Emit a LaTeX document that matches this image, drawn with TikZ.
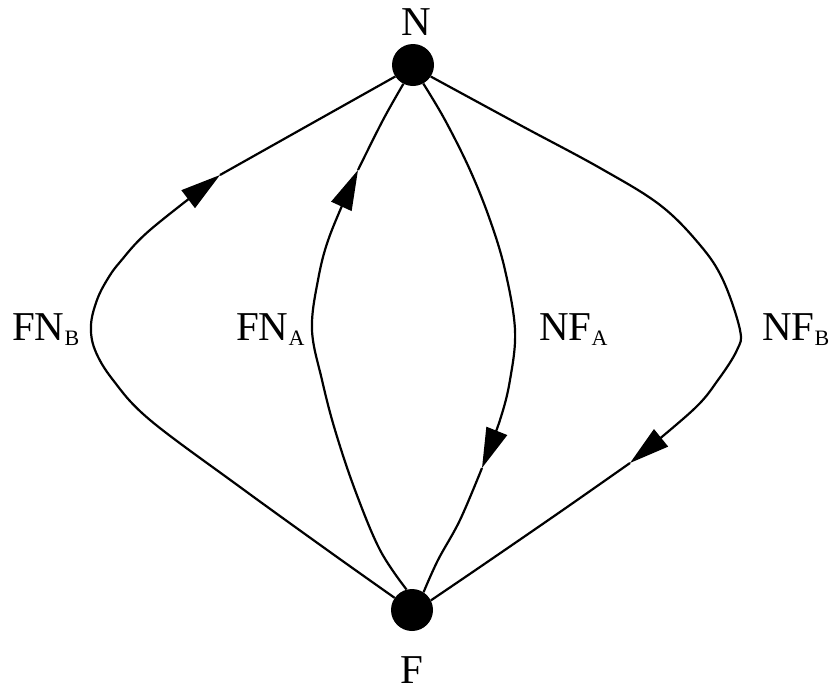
\documentclass[tikz,border=0pt]{standalone}
\usepackage{fontspec}
\setmainfont{Liberation Serif}
\usetikzlibrary{arrows.meta}
\newcommand\subtxt[1]{\raisebox{-5pt}{\fontsize{22}{22}\selectfont #1}}
\tikzset{
  vertex/.style={circle,fill=black,minimum size=42pt,inner sep=0pt},
  lbl/.style={inner sep=0pt,font=\fontsize{41}{44}\selectfont},
  edge/.style={line width=2.2pt,line join=round},
  arr/.style={edge,-{Triangle[length=40pt,width=22pt]}}
}
\begin{document}
\begin{tikzpicture}[x=1pt,y=-1pt]
\useasboundingbox (0,0) rectangle (839,691);
\node[vertex] (N) at (413,65) {};
\node[vertex] (F) at (412,610) {};
\node[lbl,anchor=base] (lN) at (416,35) {N};
\node[lbl,anchor=base] (lF) at (412,683) {F};
\node[lbl,anchor=base west] (lFNB) at (12,340) {FN\subtxt{B}};
\node[lbl,anchor=base west] (lFNA) at (236,340) {FN\subtxt{A}};
\node[lbl,anchor=base west] (lNFA) at (539,340) {NF\subtxt{A}};
\node[lbl,anchor=base west] (lNFB) at (762,340) {NF\subtxt{B}};
% FN_B
\coordinate (tB1) at (220,175);
\draw[arr] plot[smooth,tension=0.6] coordinates {(F.145) (330,552) (240,487) (150,420) (113,380) (95,350) (91,325) (97,300) (107,280) (120,262) (150,230) (tB1)};
\draw[edge] plot[smooth,tension=0.6] coordinates {(tB1) (300,130) (N.-147)};
% FN_A
\coordinate (tA1) at (358,170);
\draw[arr] plot[smooth,tension=0.6] coordinates {(F.105) (380,550) (355,490) (335,430) (322,380) (312,330) (318,280) (330,235) (tA1)};
\draw[edge] plot[smooth,tension=0.6] coordinates {(tA1) (383,120) (N.-117)};
% NF_A
\coordinate (tA2) at (482,468);
\draw[arr] plot[smooth,tension=0.6] coordinates {(N.-61) (445,120) (470,170) (490,220) (505,270) (515,330) (510,380) (500,420) (tA2)};
\draw[edge] plot[smooth,tension=0.6] coordinates {(tA2) (460,520) (438,560) (F.57)};
% NF_B
\coordinate (tB2) at (630,463);
\draw[arr] plot[smooth,tension=0.6] coordinates {(N.-33) (520,125) (600,168) (660,205) (700,245) (723,280) (740,330) (737,350) (718,380) (693,410) (tB2)};
\draw[edge] plot[smooth,tension=0.6] coordinates {(tB2) (560,512) (480,567) (F.27)};
\end{tikzpicture}
\end{document}
